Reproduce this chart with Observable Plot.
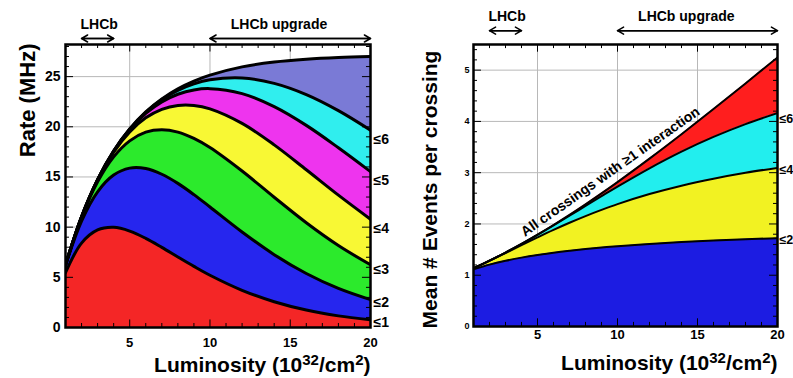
<!DOCTYPE html>
<html><head><meta charset="utf-8">
<script src="https://cdn.jsdelivr.net/npm/d3@7"></script>
<script src="https://cdn.jsdelivr.net/npm/@observablehq/plot@0.6"></script>
<style>
body{margin:0;background:#fff;}
#wrap{position:relative;width:793px;height:378px;overflow:hidden;background:#fff;}
#left{position:absolute;left:0;top:0;width:400px;height:378px;}
#right{position:absolute;left:400px;top:0;width:393px;height:378px;}
</style></head><body><div id="wrap"><div id="left"></div><div id="right"></div></div>
<script>
// Luminosity sample points (10^32 / cm^2)
const lum = [1,2,3,4,5,6,7,8,9,10,12,14,16,18,20];
// Left panel: rate (MHz) of crossings with <=k interactions (and all with >=1)
const rateLe1 = [5.46,8.41,9.72,9.98,9.61,8.88,7.98,7.03,6.09,5.21,3.71,2.57,1.74,1.16,0.77];
const rateLe2 = [6.17,10.60,13.52,15.19,15.88,15.84,15.27,14.36,13.24,12.01,9.52,7.26,5.38,3.89,2.77];
const rateLe3 = [6.23,10.99,14.51,17.00,18.60,19.47,19.71,19.47,18.84,17.93,15.59,12.98,10.44,8.17,6.25];
const rateLe4 = [6.24,11.04,14.71,17.47,19.49,20.89,21.74,22.13,22.13,21.79,20.34,18.20,15.72,13.19,10.79];
const rateLe5 = [6.24,11.04,14.74,17.57,19.73,21.33,22.48,23.24,23.67,23.80,23.31,22.01,20.14,17.91,15.53];
const rateLe6 = [6.24,11.04,14.74,17.59,19.78,21.45,22.71,23.63,24.28,24.68,24.86,24.33,23.21,21.61,19.66];
const rateAll = [6.24,11.04,14.74,17.59,19.79,21.48,22.78,23.79,24.56,25.15,25.97,26.45,26.73,26.90,27.00];
// Right panel: mean # events per crossing
const meanLe2 = [1.115,1.207,1.281,1.343,1.395,1.439,1.477,1.511,1.540,1.566,1.610,1.646,1.676,1.701,1.723];
const meanLe4 = [1.136,1.282,1.433,1.587,1.738,1.885,2.024,2.154,2.275,2.387,2.583,2.747,2.883,2.998,3.094];
const meanLe6 = [1.136,1.284,1.442,1.610,1.788,1.972,2.160,2.351,2.541,2.729,3.086,3.411,3.698,3.948,4.163];
const meanAll = [1.136,1.284,1.442,1.611,1.791,1.980,2.177,2.383,2.597,2.817,3.275,3.751,4.241,4.741,5.248];

// Tick labels
const xMajor = [5,10,15,20];
const xMinor = [2,3,4,6,7,8,9,11,12,13,14,16,17,18,19];
const yMajorLeft = [0,5,10,15,20,25];
const yMajorRight = [0,1,2,3,4,5];
// Band labels
const leftLabels = ["≤1","≤2","≤3","≤4","≤5","≤6"];
const leftLabelY = [0.45,2.5,5.8,9.9,14.6,18.7];
const rightLabels = ["≤2","≤4","≤6"];
const rightLabelY = [1.68,3.06,4.05];
// Run-period annotations
const periodNames = ["LHCb","LHCb upgrade"];
const periodStart = [2,10];
const periodEnd = [4,20];
const periodTextX = [3.1,14.3];

const FONT = "'Liberation Sans', Arial, Helvetica, sans-serif";
const xTitle = "Luminosity (10^32/cm^2)";
const rowsOf = vals => lum.map((L,i) => ({L, v: vals[i]}));
const yMinorLeft = d3.range(1,29).filter(v => v % 5 !== 0);
const yMinorRight = d3.range(1,28).map(i => i/5).filter(v => Math.abs(v - Math.round(v)) > 1e-6);
const periods = periodNames.map((n,i) => ({n, a: periodStart[i], b: periodEnd[i], t: periodTextX[i]}));

function frameTicks(yMax, xLen, xLenMinor) {
  return [
    Plot.ruleX(xMinor, {x: d=>d, y1: 0, y2: xLenMinor, stroke: "black"}),
    Plot.ruleX(xMajor, {x: d=>d, y1: 0, y2: xLen, stroke: "black"}),
    Plot.ruleX(xMinor, {x: d=>d, y1: yMax, y2: yMax - xLenMinor, stroke: "black"}),
    Plot.ruleX(xMajor, {x: d=>d, y1: yMax, y2: yMax - xLen, stroke: "black"}),
  ];
}

const leftBands = [
  {vals: rateAll, fill: "#7a7ad6"},
  {vals: rateLe6, fill: "#30eeee"},
  {vals: rateLe5, fill: "#ee34ee"},
  {vals: rateLe4, fill: "#f8f834"},
  {vals: rateLe3, fill: "#2cea2c"},
  {vals: rateLe2, fill: "#2626ee"},
  {vals: rateLe1, fill: "#f42626"}
];
const yMaxL = 28.2;
const left = Plot.plot({
  width: 400, height: 378, marginLeft: 65, marginRight: 30, marginTop: 44, marginBottom: 51,
  x: {domain: [1,20], axis: null},
  y: {domain: [0,yMaxL], axis: null},
  style: {fontFamily: FONT, background: "white", overflow: "visible"},
  marks: [
    Plot.ruleX([5,10,15], {x: d=>d, stroke: "#b8b8b8", strokeWidth: 1}),
    Plot.ruleY(yMajorLeft.slice(1), {y: d=>d, stroke: "#b8b8b8", strokeWidth: 1}),
    ...leftBands.map(b => Plot.areaY(rowsOf(b.vals), {x: "L", y: "v", fill: b.fill, curve: "catmull-rom"})),
    ...leftBands.map(b => Plot.line(rowsOf(b.vals), {x: "L", y: "v", stroke: "black", strokeWidth: 3, curve: "catmull-rom", clip: true})),
    ...frameTicks(yMaxL, 0.75, 0.4),
    Plot.ruleY(yMinorLeft, {y: d=>d, x1: 1, x2: 1.25, stroke: "black"}),
    Plot.ruleY(yMajorLeft, {y: d=>d, x1: 1, x2: 1.5, stroke: "black"}),
    Plot.ruleY(yMinorLeft, {y: d=>d, x1: 20, x2: 19.75, stroke: "black"}),
    Plot.ruleY(yMajorLeft, {y: d=>d, x1: 20, x2: 19.5, stroke: "black"}),
    Plot.frame({stroke: "black", strokeWidth: 2.5}),
    Plot.text(xMajor, {x: d=>d, y: 0, text: d=>String(d), dy: 15, fontSize: 13, fontWeight: "bold"}),
    Plot.text(yMajorLeft, {x: 1, y: d=>d, text: d=>String(d), dx: -5, textAnchor: "end", fontSize: 14, fontWeight: "bold"}),
    Plot.text(leftLabels, {x: 20, y: (d,i)=>leftLabelY[i], text: d=>d, dx: 3, textAnchor: "start", fontSize: 14, fontWeight: "bold"}),
    Plot.text(["Rate (MHz)"], {frameAnchor: "top-left", text: d=>d, rotate: -90, textAnchor: "end", dx: -46, dy: -1, fontSize: 22, fontWeight: "bold"}),
    Plot.text([xTitle], {frameAnchor: "bottom-right", text: d=>d, textAnchor: "end", lineAnchor: "bottom", dy: 44, fontSize: 21, fontWeight: "bold"}),
    Plot.arrow(periods, {x1: "a", x2: "b", y1: 28.8, y2: 28.8, stroke: "black", strokeWidth: 1.5, headLength: 7}),
    Plot.arrow(periods, {x1: "b", x2: "a", y1: 28.8, y2: 28.8, stroke: "black", strokeWidth: 1.5, headLength: 7}),
    Plot.text(periods, {x: "t", y: 30.2, text: "n", fontSize: 14, fontWeight: "bold"})
  ]
});

const rightBands = [
  {vals: meanAll, fill: "#ff1e1e"},
  {vals: meanLe6, fill: "#22eeee"},
  {vals: meanLe4, fill: "#f2f222"},
  {vals: meanLe2, fill: "#1c1ce2"}
];
const yMaxR = 5.5;
const right = Plot.plot({
  width: 393, height: 378, marginLeft: 73, marginRight: 16, marginTop: 44, marginBottom: 52,
  x: {domain: [1,20], axis: null},
  y: {domain: [0,yMaxR], axis: null},
  style: {fontFamily: FONT, background: "white", overflow: "visible"},
  marks: [
    Plot.ruleX([5,10,15], {x: d=>d, stroke: "#b8b8b8", strokeWidth: 1}),
    Plot.ruleY(yMajorRight.slice(1), {y: d=>d, stroke: "#b8b8b8", strokeWidth: 1}),
    ...rightBands.map(b => Plot.areaY(rowsOf(b.vals), {x: "L", y: "v", fill: b.fill, curve: "catmull-rom"})),
    ...rightBands.map(b => Plot.line(rowsOf(b.vals), {x: "L", y: "v", stroke: "black", strokeWidth: 2, curve: "catmull-rom", clip: true})),
    ...frameTicks(yMaxR, 0.15, 0.08),
    Plot.ruleY(yMinorRight, {y: d=>d, x1: 1, x2: 1.25, stroke: "black"}),
    Plot.ruleY(yMajorRight, {y: d=>d, x1: 1, x2: 1.5, stroke: "black"}),
    Plot.ruleY(yMinorRight, {y: d=>d, x1: 20, x2: 19.75, stroke: "black"}),
    Plot.ruleY(yMajorRight, {y: d=>d, x1: 20, x2: 19.5, stroke: "black"}),
    Plot.frame({stroke: "black", strokeWidth: 2.5}),
    Plot.text(xMajor, {x: d=>d, y: 0, text: d=>String(d), dy: 8, fontSize: 13, fontWeight: "bold"}),
    Plot.text(yMajorRight, {x: 1, y: d=>d, text: d=>String(d), dx: -4, textAnchor: "end", fontSize: 9, fontWeight: "bold"}),
    Plot.text(rightLabels, {x: 20, y: (d,i)=>rightLabelY[i], text: d=>d, dx: 2, textAnchor: "start", fontSize: 12.5, fontWeight: "bold"}),
    Plot.text(["All crossings with ≥1 interaction"], {x: 9.55, y: 3.02, text: d=>d, rotate: -35, fontSize: 14, fontWeight: "bold"}),
    Plot.text(["Mean # Events per crossing"], {frameAnchor: "left", text: d=>d, rotate: -90, textAnchor: "middle", dx: -43, dy: 4, fontSize: 21, fontWeight: "bold"}),
    Plot.text([xTitle], {frameAnchor: "bottom-right", text: d=>d, textAnchor: "end", lineAnchor: "bottom", dy: 43, fontSize: 21, fontWeight: "bold"}),
    Plot.arrow(periods, {x1: "a", x2: "b", y1: 5.77, y2: 5.77, stroke: "black", strokeWidth: 1.5, headLength: 7}),
    Plot.arrow(periods, {x1: "b", x2: "a", y1: 5.77, y2: 5.77, stroke: "black", strokeWidth: 1.5, headLength: 7}),
    Plot.text(periods, {x: "t", y: 6.04, text: "n", fontSize: 14, fontWeight: "bold"})
  ]
});

function superscriptTitle(svg) {
  d3.select(svg).selectAll("text").filter(function(){ return this.textContent === xTitle; }).each(function(){
    const t = d3.select(this);
    t.text(null);
    t.append("tspan").text("Luminosity (10");
    t.append("tspan").attr("dy", -7).attr("font-size", "15px").text("32");
    t.append("tspan").attr("dy", 7).text("/cm");
    t.append("tspan").attr("dy", -7).attr("font-size", "15px").text("2");
    t.append("tspan").attr("dy", 7).text(")");
  });
}
superscriptTitle(left);
superscriptTitle(right);
document.getElementById("left").appendChild(left);
document.getElementById("right").appendChild(right);
</script>
</body></html>
